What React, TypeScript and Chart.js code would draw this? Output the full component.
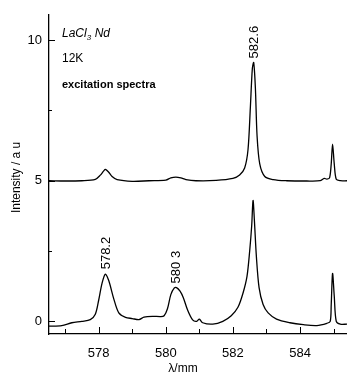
import React, { useEffect, useRef } from "react";
import { Chart, registerables } from "chart.js";

Chart.register(...registerables);

const lambdaUpper = [576.52, 577.0, 577.5, 577.9, 578.05, 578.15, 578.2, 578.3, 578.4, 578.55, 579.0, 579.5, 580.0, 580.15, 580.3, 580.45, 580.6, 580.9, 581.5, 582.0, 582.2, 582.35, 582.45, 582.52, 582.58, 582.62, 582.67, 582.72, 582.8, 582.95, 583.2, 583.6, 584.2, 584.6, 584.72, 584.8, 584.88, 584.93, 584.97, 585.02, 585.08, 585.2, 585.4];
const intensityUpper = [5.0, 4.99, 5.0, 5.05, 5.2, 5.35, 5.4, 5.3, 5.15, 5.04, 4.98, 5.0, 5.02, 5.1, 5.13, 5.1, 5.04, 5.0, 5.01, 5.08, 5.2, 5.45, 6.1, 7.6, 9.0, 9.2, 8.3, 6.6, 5.6, 5.15, 5.04, 5.0, 4.99, 5.0, 5.08, 5.06, 5.1, 5.6, 6.3, 5.6, 5.05, 5.0, 5.0];

const lambdaLower = [576.52, 576.9, 577.2, 577.5, 577.75, 577.9, 578.0, 578.1, 578.2, 578.3, 578.45, 578.6, 578.8, 579.0, 579.2, 579.35, 579.6, 579.85, 579.95, 580.05, 580.15, 580.25, 580.32, 580.42, 580.52, 580.65, 580.8, 580.92, 581.0, 581.1, 581.4, 581.7, 581.95, 582.15, 582.3, 582.42, 582.5, 582.56, 582.6, 582.64, 582.7, 582.78, 582.9, 583.05, 583.3, 583.7, 584.1, 584.5, 584.8, 584.9, 584.93, 584.97, 585.02, 585.08, 585.2, 585.4];
const intensityLower = [-0.17, -0.15, -0.05, 0.0, 0.06, 0.25, 0.75, 1.35, 1.68, 1.45, 0.8, 0.3, 0.14, 0.1, 0.06, 0.15, 0.18, 0.17, 0.2, 0.45, 0.95, 1.18, 1.2, 1.08, 0.85, 0.4, 0.05, 0.0, 0.08, -0.05, -0.1, 0.0, 0.2, 0.5, 1.0, 1.6, 2.5, 3.4, 4.3, 3.6, 2.3, 1.2, 0.6, 0.3, 0.08, -0.05, -0.12, -0.15, -0.07, 0.0, 0.6, 1.7, 0.9, 0.0, -0.1, -0.1];

const xTicks = [578, 580, 582, 584];
const xMinorTicks = [577, 579, 581, 583, 585];
const yTicks = [0, 5, 10];
const yMinorTicks = [2.5, 7.5];

const peakLabels = [
  { x: 582.6, y: 9.35, text: "582.6" },
  { x: 578.2, y: 1.85, text: "578.2" },
  { x: 580.3, y: 1.35, text: "580 3" },
];

const FONT = "'Liberation Sans', Arial, sans-serif";

const decorPlugin = {
  id: "decor",
  afterDraw(chart: any) {
    const ctx = chart.ctx;
    const xs = chart.scales.x;
    const ys = chart.scales.y;
    const ca = chart.chartArea;
    ctx.save();
    ctx.strokeStyle = "#000";
    ctx.lineWidth = 1;
    // inside ticks on x axis
    const drawXT = (v: number, len: number) => {
      const px = Math.round(xs.getPixelForValue(v)) + 0.5;
      ctx.beginPath();
      ctx.moveTo(px, ca.bottom);
      ctx.lineTo(px, ca.bottom - len);
      ctx.stroke();
    };
    xTicks.forEach((v) => drawXT(v, 7));
    xMinorTicks.forEach((v) => drawXT(v, 5));
    const drawYT = (v: number, len: number) => {
      const py = Math.round(ys.getPixelForValue(v)) + 0.5;
      ctx.beginPath();
      ctx.moveTo(ca.left, py);
      ctx.lineTo(ca.left + len, py);
      ctx.stroke();
    };
    yTicks.forEach((v) => drawYT(v, 6));
    yMinorTicks.forEach((v) => drawYT(v, 3));

    ctx.fillStyle = "#000";
    // axis titles
    ctx.font = `12px ${FONT}`;
    ctx.textAlign = "center";
    ctx.textBaseline = "middle";
    ctx.fillText("\u03bb/mm", 183, 369);
    ctx.save();
    ctx.translate(17, (ca.top + ca.bottom) / 2 + 3);
    ctx.rotate(-Math.PI / 2);
    ctx.fillText("Intensity / a u", 0, 0);
    ctx.restore();

    // annotation text
    ctx.textAlign = "left";
    ctx.textBaseline = "alphabetic";
    ctx.font = `italic 12px ${FONT}`;
    const tx = ca.left + 13;
    ctx.fillText("LaCl", tx, 37);
    const w1 = ctx.measureText("LaCl").width;
    ctx.font = `italic 8px ${FONT}`;
    ctx.fillText("3", tx + w1, 40);
    ctx.font = `italic 12px ${FONT}`;
    ctx.fillText("Nd", tx + w1 + 8, 37);
    ctx.font = `12px ${FONT}`;
    ctx.fillText("12K", tx, 62);
    ctx.font = `bold 11px ${FONT}`;
    ctx.fillText("excitation spectra", tx, 88);

    // peak labels
    ctx.font = `13px ${FONT}`;
    peakLabels.forEach((p) => {
      const px = xs.getPixelForValue(p.x);
      const py = ys.getPixelForValue(p.y);
      ctx.save();
      ctx.translate(px + 1, py);
      ctx.rotate(-Math.PI / 2);
      ctx.textAlign = "left";
      ctx.textBaseline = "middle";
      ctx.fillText(p.text, 0, 0);
      ctx.restore();
    });
    ctx.restore();
  },
};

export default function App() {
  const ref = useRef<HTMLCanvasElement | null>(null);
  useEffect(() => {
    document.body.style.margin = "0";
    const c = ref.current;
    if (!c) return;
    const chart = new Chart(c, {
      type: "line",
      data: {
        datasets: [
          {
            data: lambdaUpper.map((x, i) => ({ x, y: intensityUpper[i] })),
            borderColor: "#000",
            borderWidth: 1.3,
            pointRadius: 0,
            tension: 0.3,
            fill: false,
          },
          {
            data: lambdaLower.map((x, i) => ({ x, y: intensityLower[i] })),
            borderColor: "#000",
            borderWidth: 1.3,
            pointRadius: 0,
            tension: 0.3,
            fill: false,
          },
        ],
      },
      options: {
        animation: false,
        responsive: false,
        maintainAspectRatio: false,
        layout: { padding: { top: 8, right: 0, left: 0, bottom: 0 } },
        plugins: { legend: { display: false }, tooltip: { enabled: false } },
        scales: {
          x: {
            type: "linear",
            min: 576.52,
            max: 585.4,
            grid: { display: false, drawTicks: false },
            border: { display: true, color: "#000", width: 1.3 },
            afterBuildTicks: (s: any) => {
              s.ticks = xTicks.map((v) => ({ value: v }));
            },
            afterFit: (s: any) => {
              s.height = 43;
            },
            ticks: {
              padding: 12,
              color: "#000",
              font: { family: FONT, size: 13 },
              maxRotation: 0,
              autoSkip: false,
            },
          },
          y: {
            type: "linear",
            min: -0.45,
            max: 10.9,
            grid: { display: false, drawTicks: false },
            border: { display: true, color: "#000", width: 1.3 },
            afterBuildTicks: (s: any) => {
              s.ticks = yTicks.map((v) => ({ value: v }));
            },
            afterFit: (s: any) => {
              s.width = 49;
            },
            ticks: {
              padding: 7,
              color: "#000",
              font: { family: FONT, size: 13 },
            },
          },
        },
      },
      plugins: [decorPlugin],
    } as any);
    return () => chart.destroy();
  }, []);
  return (
    <div style={{ width: 347, height: 377, background: "#fff" }}>
      <canvas ref={ref} width={347} height={377} style={{ display: "block" }} />
    </div>
  );
}
